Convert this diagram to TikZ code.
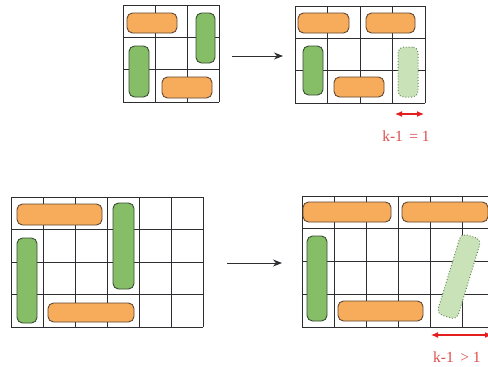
\documentclass[tikz,border=0pt]{standalone}
\usepackage{fontspec}
\setmainfont{Liberation Serif}
\usetikzlibrary{arrows.meta}

\definecolor{gridcol}{RGB}{45,45,50}
\definecolor{orangefill}{RGB}{247,172,92}
\definecolor{orangeline}{RGB}{95,70,50}
\definecolor{greenfill}{RGB}{134,190,104}
\definecolor{greenline}{RGB}{55,75,50}
\definecolor{ghostfill}{RGB}{202,226,184}
\definecolor{ghostline}{RGB}{100,135,90}
\definecolor{markred}{RGB}{228,30,30}
\definecolor{labelred}{RGB}{222,78,78}

\tikzset{
  gridline/.style={draw=gridcol, line width=0.9pt},
  bar/.style={rounded corners=5.5pt, line width=0.9pt, inner sep=0pt, outer sep=0pt},
  hbar/.style={bar, draw=orangeline, fill=orangefill},
  vbar/.style={bar, draw=greenline, fill=greenfill},
  ghostbar/.style={bar, draw=ghostline, fill=ghostfill, dotted, line width=1pt},
  moveto/.style={-{Stealth[length=9pt,width=7pt]}, line width=0.9pt, draw=gridcol},
  span/.style={{Latex[length=7pt,width=6pt]}-{Latex[length=7pt,width=6pt]}, line width=1.1pt, draw=markred},
  spanlabel/.style={text=labelred, font=\fontsize{15.5}{17}\selectfont, inner sep=0pt}
}

\begin{document}
\begin{tikzpicture}[x=1pt, y=-1pt]
\useasboundingbox (0,0) rectangle (488,367);
\clip (0,0) rectangle (488,367);
\fill[white] (0,0) rectangle (488,367);

% ---------- small board, before ----------
\foreach \i in {0,...,3} \draw[gridline] (123+32*\i,5) -- (123+32*\i,102);
\foreach \j in {0,...,3} \draw[gridline] (123,5+32.33*\j) -- (219,5+32.33*\j);
\node[hbar, minimum width=50pt, minimum height=20pt] (sa1) at (152,23) {};
\node[vbar, minimum width=19pt, minimum height=50pt] (sa2) at (205.5,38) {};
\node[vbar, minimum width=20pt, minimum height=51pt] (sa3) at (139,71.5) {};
\node[hbar, minimum width=50pt, minimum height=21pt] (sa4) at (187,87.5) {};

% ---------- small board, after ----------
\foreach \i in {0,...,4} \draw[gridline] (295+32.5*\i,6) -- (295+32.5*\i,103);
\foreach \j in {0,...,3} \draw[gridline] (295,6+32.33*\j) -- (425,6+32.33*\j);
\node[hbar, minimum width=51pt, minimum height=20pt] (sb1) at (323.5,23) {};
\node[hbar, minimum width=49pt, minimum height=20pt] (sb2) at (390.5,23) {};
\node[vbar, minimum width=20pt, minimum height=49pt] (sb3) at (313,70.5) {};
\node[hbar, minimum width=50pt, minimum height=20pt] (sb4) at (359,87) {};
\node[ghostbar, minimum width=20pt, minimum height=50pt] (sb5) at (408,72) {};

\coordinate (sarrS) at (232,56);
\coordinate (sarrE) at (283,56);
\draw[moveto] (sarrS) -- (sarrE);

\coordinate (sspanL) at (395,114);
\coordinate (sspanR) at (424,114);
\draw[span] (sspanL) -- (sspanR);
\node[spanlabel] (slabel) at (406,136) {k-1\, = 1};

% ---------- large board, before ----------
\foreach \i in {0,...,6} \draw[gridline] (11+32*\i,197) -- (11+32*\i,327);
\foreach \j in {0,...,4} \draw[gridline] (11,197+32.5*\j) -- (203,197+32.5*\j);
\node[hbar, minimum width=85pt, minimum height=21pt] (la1) at (59.5,214.5) {};
\node[vbar, minimum width=21pt, minimum height=86pt] (la2) at (123.5,246) {};
\node[vbar, minimum width=20pt, minimum height=85pt] (la3) at (27,280.5) {};
\node[hbar, minimum width=86pt, minimum height=19pt] (la4) at (91,312.5) {};

% ---------- large board, after ----------
\foreach \i in {0,...,6} \draw[gridline] (302+32*\i,196) -- (302+32*\i,327);
\foreach \j in {0,...,4} \draw[gridline] (302,196+32.75*\j) -- (500,196+32.75*\j);
\node[hbar, minimum width=88pt, minimum height=20pt] (lb1) at (347,212) {};
\node[hbar, minimum width=86pt, minimum height=20pt] (lb2) at (445,212) {};
\node[vbar, minimum width=20pt, minimum height=85pt] (lb3) at (317,278.5) {};
\node[hbar, minimum width=85pt, minimum height=20pt] (lb4) at (380.5,311) {};
\node[ghostbar, minimum width=21pt, minimum height=84pt, rotate=-17] (lb5) at (459,276.5) {};

\coordinate (larrS) at (227,263);
\coordinate (larrE) at (282,263);
\draw[moveto] (larrS) -- (larrE);

\coordinate (lspanL) at (431,335);
\coordinate (lspanR) at (492,335);
\draw[span] (lspanL) -- (lspanR);
\node[spanlabel, anchor=west] (llabel) at (433,357) {k-1\, > 1};
\end{tikzpicture}
\end{document}
